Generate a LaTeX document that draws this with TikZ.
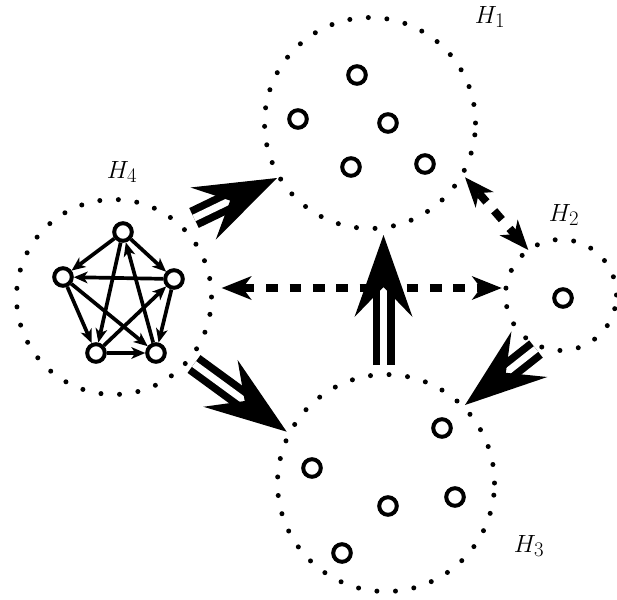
\documentclass[tikz,border=0pt]{standalone}
\usetikzlibrary{arrows.meta}
\begin{document}
\begin{tikzpicture}[x=1pt,y=-1pt,
  dotcirc/.style={circle, draw, line width=5pt, line cap=round, dash pattern=on 0pt off 18.6pt, inner sep=0pt},
  small/.style={circle, draw, line width=4pt, minimum size=17.6pt, inner sep=0pt, fill=white},
  pedge/.style={line width=3.7pt, -{Stealth[length=14pt,width=12pt,inset=4pt,line width=0pt]}},
  bigarrow/.style={line width=7.5pt, double=white, double distance=7pt, -{Stealth[length=82pt,width=58pt,inset=30pt,line width=0pt]}},
  dasharrow/.style={line width=8pt, dash pattern=on 11.7pt off 11.7pt,
    {Stealth[length=30pt,width=24pt,inset=9pt,line width=0pt]}-{Stealth[length=30pt,width=24pt,inset=9pt,line width=0pt]}},
  lab/.style={font=\fontsize{24.88pt}{30pt}\selectfont, inner sep=0pt}]
\useasboundingbox (0,0) rectangle (617,599);
% hyper-circles
\node[dotcirc, minimum size=211pt] (H1) at (370,123) {};
\node[dotcirc, minimum size=217pt] (H3) at (386,483) {};
\node[dotcirc, minimum size=195pt] (H4) at (114,297) {};
\node[dotcirc, minimum size=111pt] (H2) at (561,295) {};
% labels
\node[lab] (L1) at (490,17) {$H_1$};
\node[lab] (L2) at (564,215) {$H_2$};
\node[lab] (L3) at (529,546) {$H_3$};
\node[lab] (L4) at (122,172) {$H_4$};
% small vertices
\node[small] (a1) at (357,75) {};
\node[small] (a2) at (298,119) {};
\node[small] (a3) at (388,123) {};
\node[small] (a4) at (351,167) {};
\node[small] (a5) at (425,164) {};
\node[small] (b1) at (442,428) {};
\node[small] (b2) at (312,468) {};
\node[small] (b3) at (388,506) {};
\node[small] (b4) at (455,497) {};
\node[small] (b5) at (342,553) {};
\node[small] (c1) at (563,298) {};
% pentagon
\node[small] (P1) at (123,232) {};
\node[small] (P2) at (63,277) {};
\node[small] (P3) at (174,279) {};
\node[small] (P4) at (96,353) {};
\node[small] (P5) at (156,353) {};
\draw[pedge] (P1) -- (P2);
\draw[pedge] (P1) -- (P3);
\draw[pedge] (P3) -- (P2);
\draw[pedge] (P1) -- (P4);
\draw[pedge] (P5) -- (P1);
\draw[pedge] (P2) -- (P4);
\draw[pedge] (P2) -- (P5);
\draw[pedge] (P4) -- (P3);
\draw[pedge] (P3) -- (P5);
\draw[pedge] (P4) -- (P5);
% connector end points
\coordinate (s1) at (194,218); \coordinate (t1) at (277,178);
\coordinate (s2) at (194,364); \coordinate (t2) at (286.7,431.7);
\coordinate (s3) at (536,349); \coordinate (t3) at (465,405);
\coordinate (s4) at (383.5,365); \coordinate (t4) at (383.5,235);
\coordinate (d1a) at (221.7,288); \coordinate (d1b) at (501.7,288);
\coordinate (d2a) at (465,177.3); \coordinate (d2b) at (528.3,250);
% dashed arrows
\draw[dasharrow] (d1a) -- (d1b);
\draw[dasharrow] (d2a) -- (d2b);
% big arrows
\draw[bigarrow] (s1) -- (t1);
\draw[bigarrow] (s2) -- (t2);
\draw[bigarrow] (s3) -- (t3);
\draw[bigarrow] (s4) -- (t4);
\end{tikzpicture}
\end{document}
